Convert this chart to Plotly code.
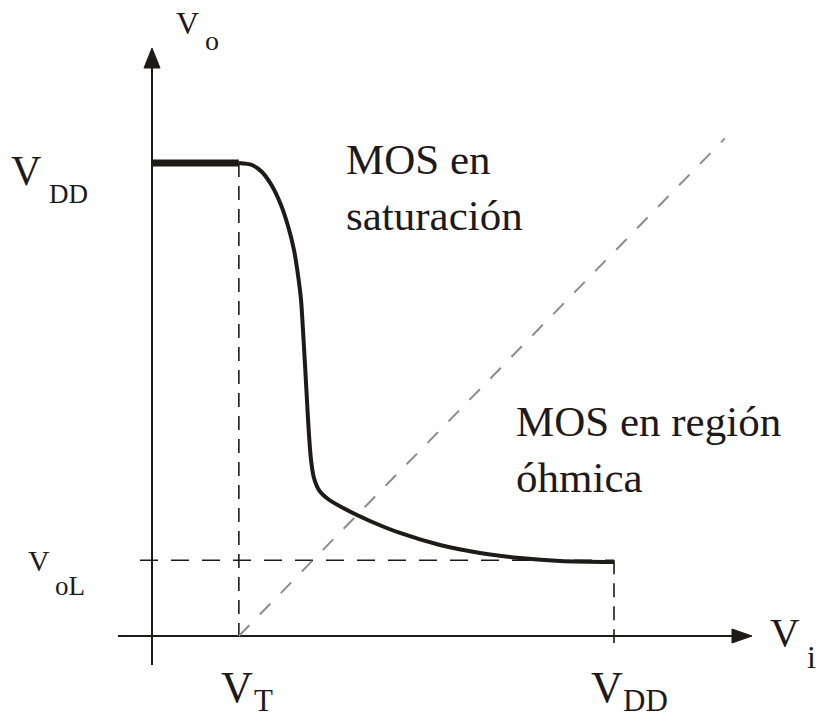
import plotly.graph_objects as go

# Transfer characteristic of an NMOS inverter stage (volts)
VDD = 5.0
VT = 0.94
VOL = 0.80

vi_curve = [0.942, 1.082, 1.190, 1.299, 1.396, 1.472, 1.537, 1.580, 1.613,
            1.634, 1.656, 1.677, 1.699, 1.721, 1.753, 1.807, 1.905, 2.089,
            2.359, 2.684, 3.117, 3.550, 3.983, 4.416, 5.000]
vo_curve = [5.000, 4.979, 4.905, 4.757, 4.556, 4.334, 4.080, 3.816, 3.552,
            3.235, 2.865, 2.495, 2.125, 1.861, 1.670, 1.543, 1.448, 1.342,
            1.216, 1.089, 0.962, 0.878, 0.825, 0.793, 0.782]

# Saturation / ohmic boundary  Vo = Vi - VT
diag_vi = [VT, 6.20]
diag_vo = [0.0, 6.20 - VT]

# Canvas geometry
W, H = 821, 720
OX, OY = 152, 636          # pixel position of the origin
SX, SY = 92.4, 94.6        # pixels per volt


def px2x(px):
    return (px - OX) / SX


def py2y(py):
    return (OY - py) / SY


INK = "#1e1a1a"
SERIF = "Liberation Serif"

fig = go.Figure()


def line(xs, ys, width=2, color=INK, dash=None):
    fig.add_trace(go.Scatter(
        x=xs, y=ys, mode="lines", hoverinfo="skip",
        line=dict(color=color, width=width, dash=dash)))


# axes
x_left, x_tip = px2x(118), px2x(752)
y_bottom, y_tip = py2y(665), py2y(48)
arrow_len_x, arrow_half_x = 20 / SX, 7 / SY
arrow_len_y, arrow_half_y = 20 / SY, 8 / SX
line([x_left, x_tip - arrow_len_x], [0, 0])
line([0, 0], [y_bottom, y_tip - arrow_len_y])
fig.add_trace(go.Scatter(
    x=[x_tip, x_tip - arrow_len_x, x_tip - arrow_len_x, x_tip],
    y=[0, arrow_half_x, -arrow_half_x, 0],
    mode="lines", fill="toself", fillcolor=INK,
    line=dict(color=INK, width=1), hoverinfo="skip"))
fig.add_trace(go.Scatter(
    x=[0, -arrow_half_y, arrow_half_y, 0],
    y=[y_tip, y_tip - arrow_len_y, y_tip - arrow_len_y, y_tip],
    mode="lines", fill="toself", fillcolor=INK,
    line=dict(color=INK, width=1), hoverinfo="skip"))

# guide lines
line([VT, VT], [VDD, 0], width=1.6, dash="14px,9px")
line([px2x(140), VDD], [VOL, VOL], width=1.6, dash="18px,13px")
line([VDD, VDD], [VOL, py2y(643)], width=1.6, dash="14px,9px")
line(diag_vi, diag_vo, width=2, color="#8c8c8c", dash="15px,15px")

# characteristic
line([0, VT], [VDD, VDD], width=7)
fig.add_trace(go.Scatter(
    x=vi_curve, y=vo_curve, mode="lines", hoverinfo="skip",
    line=dict(color=INK, width=4, shape="spline", smoothing=0.8)))


def label(text, px, py, size, xanchor="center", yanchor="middle", align="center"):
    fig.add_annotation(
        x=px / W, y=1 - py / H, xref="paper", yref="paper",
        text=text, showarrow=False, xanchor=xanchor, yanchor=yanchor,
        align=align, font=dict(family=SERIF, size=size, color=INK))


# axis symbols with subscripts
label("V", 187.5, 22.5, 32)
label("o", 211.5, 40.5, 28)
label("V", 26.5, 171, 42)
label("DD", 68.5, 194, 27)
label("V", 38.5, 560, 30)
label("oL", 70, 586, 27)
label("V", 237.5, 687, 44)
label("T", 263, 720, 31, yanchor="bottom")
label("V", 606.5, 687, 44)
label("DD", 645.5, 720, 31, yanchor="bottom")
label("V", 785, 631.5, 41)
label("i", 811, 657, 32)

# region notes
label("MOS en<br>saturación", 344, 134, 43, xanchor="left", yanchor="top", align="left")
label("MOS en región<br>óhmica", 514, 396, 43, xanchor="left", yanchor="top", align="left")

fig.update_layout(
    width=W, height=H,
    margin=dict(l=0, r=0, t=0, b=0),
    paper_bgcolor="white", plot_bgcolor="white",
    showlegend=False,
    xaxis=dict(range=[px2x(0), px2x(W)], visible=False, fixedrange=True),
    yaxis=dict(range=[py2y(H), py2y(0)], visible=False, fixedrange=True),
)

fig.write_html("out.html")
